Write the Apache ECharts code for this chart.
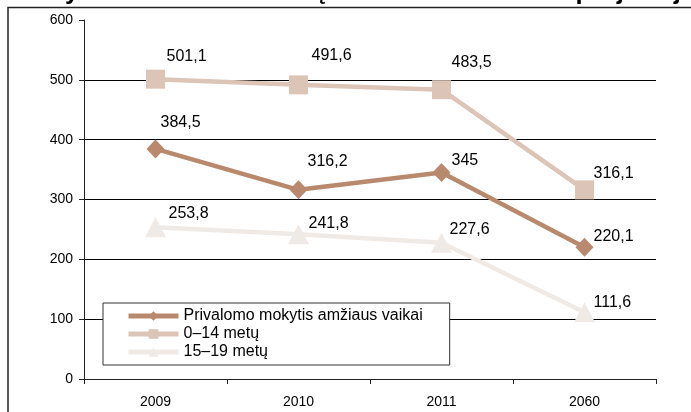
<!DOCTYPE html>
<html>
<head>
<meta charset="utf-8">
<script src="https://cdn.jsdelivr.net/npm/echarts@6/dist/echarts.min.js"></script>
<style>
  html, body { margin: 0; padding: 0; background: #fff; }
  #chart { width: 691px; height: 412px; }
</style>
</head>
<body>
<div id="chart"></div>
<script>
// duomenys
const years = ['2009', '2010', '2011', '2060'];
const seriesNames = ['Privalomo mokytis amžiaus vaikai', '0–14 metų', '15–19 metų'];
const compulsory = [384.5, 316.2, 345, 220.1];
const age0to14 = [501.1, 491.6, 483.5, 316.1];
const age15to19 = [253.8, 241.8, 227.6, 111.6];
const yTicks = { min: 0, max: 600, interval: 100 };

// label placement per point (Excel put them slightly differently each time)
const labelShift = [
  [[5, -26], [9, -28], [10, -12], [9, -11]],
  [[11, -23], [13, -29], [10, -27], [9, -16]],
  [[13, -14], [10, -11], [8, -13], [9, -10]]
];

const font = "'Liberation Sans', Arial, sans-serif";
const colors = ['#b9896e', '#dcc4b7', '#f0eae6'];
const symbols = ['diamond', 'rect', 'triangle'];
const symbolSizes = [[18, 19], [19, 19], [21, 20]];

const fmt = v => String(v).replace('.', ',');

const makeSeries = (idx, values) => ({
  name: seriesNames[idx],
  type: 'line',
  data: values.map((v, i) => ({
    value: v,
    label: { offset: labelShift[idx][i] }
  })),
  symbol: symbols[idx],
  symbolSize: symbolSizes[idx],
  showAllSymbol: true,
  itemStyle: { color: colors[idx], opacity: 1 },
  lineStyle: { color: colors[idx], width: 4.5 },
  label: {
    show: true,
    position: 'inside',
    align: 'left',
    verticalAlign: 'middle',
    color: '#000',
    fontSize: 16,
    fontFamily: font,
    formatter: p => fmt(p.value)
  },
  emphasis: { disabled: true },
  z: 3 - idx
});

const chart = echarts.init(document.getElementById('chart'));

chart.setOption({
  backgroundColor: '#fff',
  animation: false,
  textStyle: { fontFamily: font },
  graphic: [
    {
      // pavadinimas nukirptas, matosi tik apatinės raidžių dalys
      type: 'text',
      x: 13.7,
      y: -8.2,
      style: {
        text: 'Mokyklinio amžiaus vaikų skaičiaus kitimas ir projekcija',
        font: "bold 25.6px 'Liberation Sans', Arial, sans-serif",
        align: 'left',
        verticalAlign: 'middle',
        fill: '#000'
      }
    },
    {
      type: 'rect',
      shape: { x: 8, y: 7.5, width: 800, height: 600 },
      style: { fill: 'none', stroke: '#222', lineWidth: 1.5 },
      silent: true
    }
  ],
  grid: { left: 84, right: 35, top: 20, bottom: 33 },
  legend: {
    orient: 'vertical',
    left: 103,
    top: 303,
    padding: [4, 27, 4, 23],
    itemGap: 0,
    itemWidth: 50,
    itemHeight: 12,
    backgroundColor: '#fff',
    borderColor: '#333',
    borderWidth: 1,
    borderRadius: 0,
    selectedMode: false,
    lineStyle: { width: 5 },
    textStyle: { color: '#000', fontSize: 16, lineHeight: 18, fontFamily: font },
    data: seriesNames
  },
  xAxis: {
    type: 'category',
    data: years,
    boundaryGap: true,
    axisLine: { lineStyle: { color: '#222', width: 1 } },
    axisTick: { show: true, length: 5, lineStyle: { color: '#222' } },
    axisLabel: { color: '#000', fontSize: 14, margin: 16, fontFamily: font },
    splitLine: { show: false }
  },
  yAxis: {
    type: 'value',
    min: yTicks.min,
    max: yTicks.max,
    interval: yTicks.interval,
    axisLine: { show: true, lineStyle: { color: '#222', width: 1 } },
    axisTick: { show: true, length: 5, lineStyle: { color: '#222' } },
    axisLabel: { color: '#000', fontSize: 14, margin: 11, fontFamily: font },
    splitLine: {
      show: true,
      lineStyle: { color: ['#000', '#000', '#000', '#000', '#000', '#000', 'rgba(0,0,0,0)'], width: 1 }
    }
  },
  series: [
    makeSeries(0, compulsory),
    makeSeries(1, age0to14),
    makeSeries(2, age15to19)
  ]
});
</script>
</body>
</html>
